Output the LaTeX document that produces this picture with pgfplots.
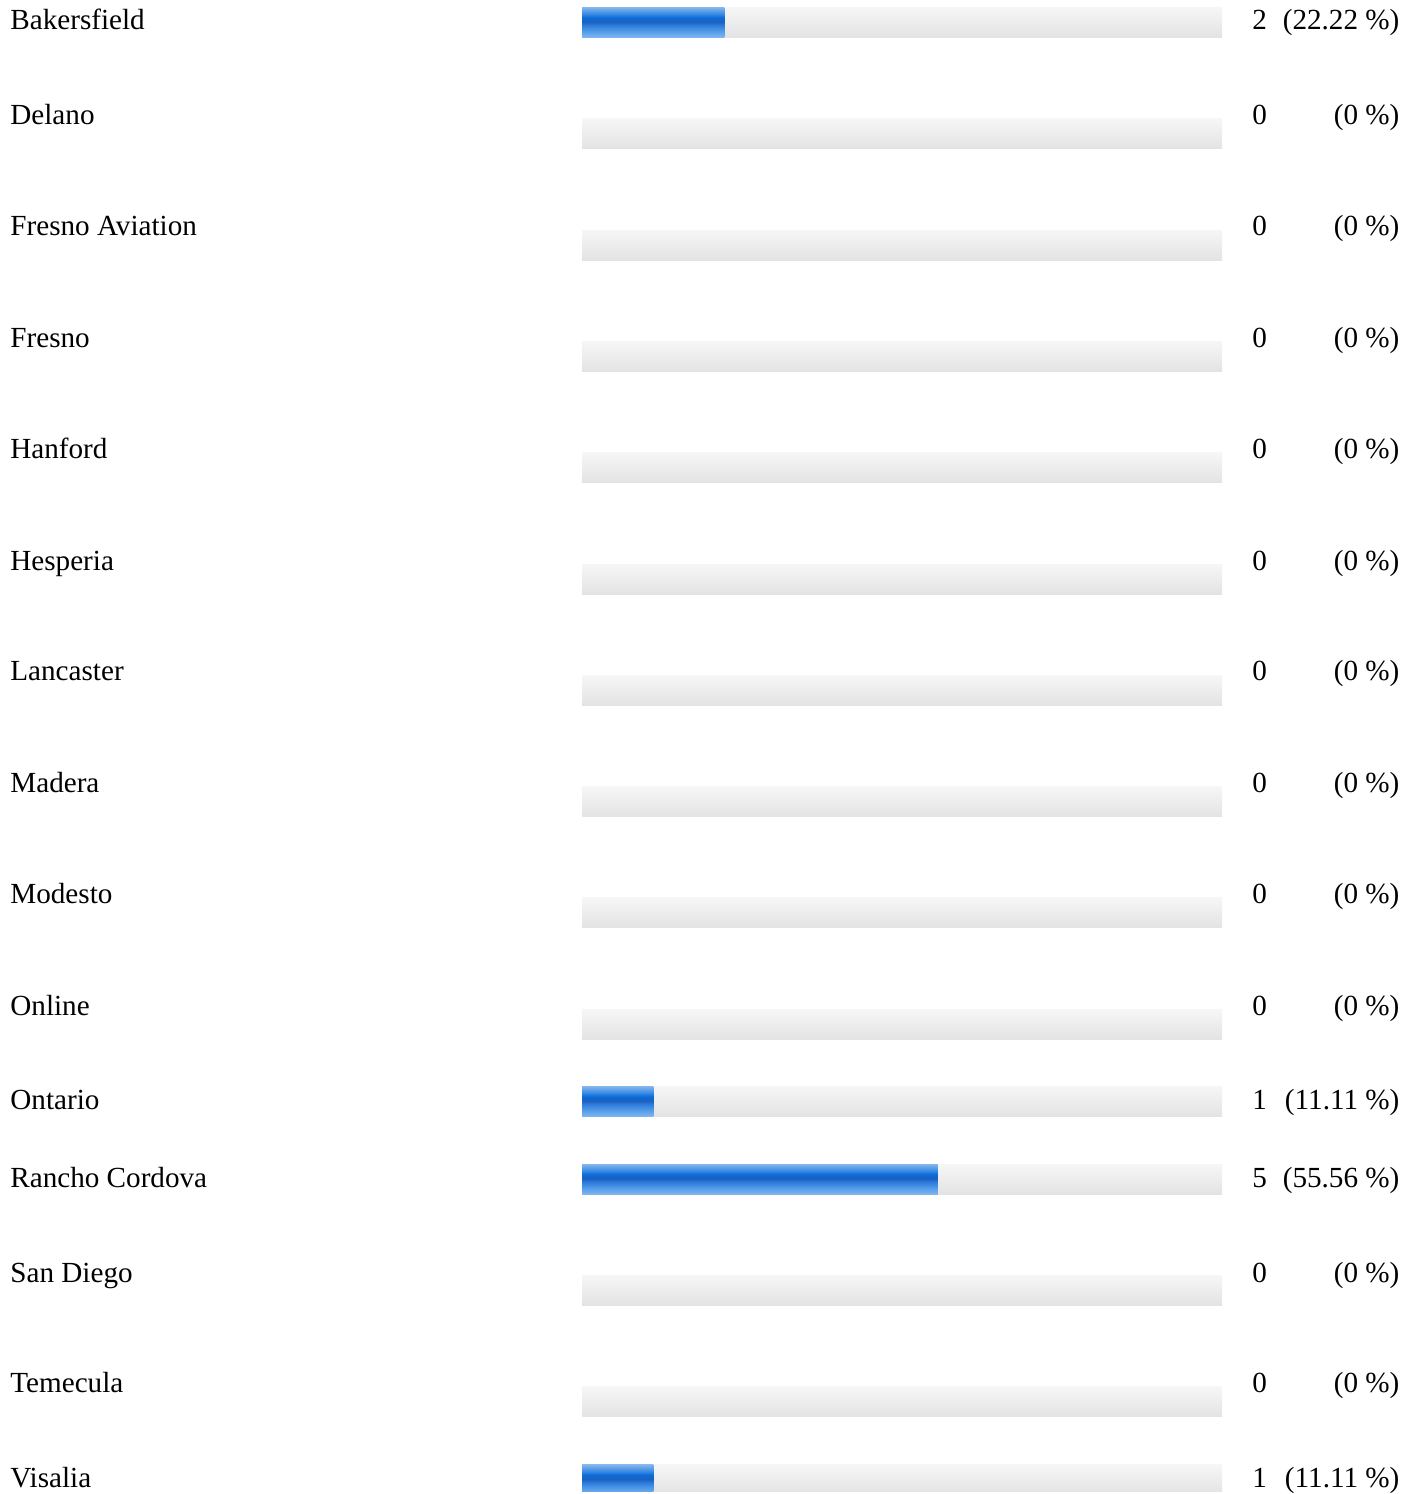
\documentclass[border=0pt]{standalone}
\usepackage{pgfplots}
\pgfplotsset{compat=1.18}
\usepackage{pgfplotstable}
\usepackage{fontspec}
\setmainfont{Liberation Serif}

\definecolor{bT}{HTML}{82B4EC}
\definecolor{b20}{HTML}{3D8DE4}
\definecolor{bMid}{HTML}{0A6BD9}
\definecolor{bDark}{HTML}{1E60BE}
\definecolor{b60}{HTML}{2D7DDF}
\definecolor{b80}{HTML}{569DE8}
\definecolor{bB}{HTML}{80B6F2}
\definecolor{gT}{HTML}{F6F6F6}
\definecolor{gB}{HTML}{E3E3E3}

\pgfdeclareverticalshading{bluebar}{100bp}{color(0bp)=(bB); color(25bp)=(bB); color(35bp)=(b80); color(45bp)=(b60); color(51bp)=(bDark); color(58bp)=(bMid); color(65bp)=(b20); color(75bp)=(bT); color(100bp)=(bT)}
\pgfdeclareverticalshading{graybar}{100bp}{color(0bp)=(gB); color(25bp)=(gB); color(75bp)=(gT); color(100bp)=(gT)}

% ly = text baseline (px), by = bar centre (px), val = percent
\pgfplotstableread{
name ly by val count pct
Bakersfield 30 22.5 22.22 2 {(22.22 \%)}
Delano 125 134 0 0 {(0 \%)}
{Fresno Aviation} 236 245.5 0 0 {(0 \%)}
Fresno 348 357 0 0 {(0 \%)}
Hanford 459 468.5 0 0 {(0 \%)}
Hesperia 571 580 0 0 {(0 \%)}
Lancaster 682 691.5 0 0 {(0 \%)}
Madera 794 803 0 0 {(0 \%)}
Modesto 905 914 0 0 {(0 \%)}
Online 1017 1026 0 0 {(0 \%)}
Ontario 1111 1103 11.11 1 {(11.11 \%)}
{Rancho Cordova} 1189 1181 55.56 5 {(55.56 \%)}
{San Diego} 1284 1292 0 0 {(0 \%)}
Temecula 1395 1404 0 0 {(0 \%)}
Visalia 1490 1482 11.11 1 {(11.11 \%)}
}\datatable

\pgfplotstableread{
by val
22.5 22.22
1103 11.11
1181 55.56
1482 11.11
}\bluetable

\begin{document}
\begin{tikzpicture}
\begin{axis}[
  width=709.5pt, height=747pt, scale only axis,
  xmin=-90.95, xmax=130.42, ymin=0, ymax=1494, y dir=reverse,
  axis line style={draw=none}, ticks=none,
  every node near coord/.append style={font=\fontsize{14.6pt}{17pt}\selectfont, inner sep=0pt, text=black},
]
% gray tracks, one path per bar so each gets its own shading
\pgfplotsinvokeforeach{0,...,14}{
\addplot[xbar, bar width=30, bar shift=0pt, draw=none, shading=graybar,
  restrict expr to domain={\coordindex}{#1:#1}]
  table[x expr=100, y=by] {\datatable};
}
% blue bars
\pgfplotsinvokeforeach{0,...,3}{
\addplot[xbar, bar width=30, bar shift=0pt, draw=none, shading=bluebar,
  restrict expr to domain={\coordindex}{#1:#1}]
  table[x=val, y=by] {\bluetable};
}
% category labels
\addplot[draw=none, mark=none, nodes near coords, point meta=explicit symbolic,
  every node near coord/.append style={anchor=base west}]
  table[x expr=-89.39, y=ly, meta=name] {\datatable};
% counts
\addplot[draw=none, mark=none, nodes near coords, point meta=explicit symbolic,
  every node near coord/.append style={anchor=base west}]
  table[x expr=104.65, y=ly, meta=count] {\datatable};
% percentages
\addplot[draw=none, mark=none, nodes near coords, point meta=explicit symbolic,
  every node near coord/.append style={anchor=base east}]
  table[x expr=127.75, y=ly, meta=pct] {\datatable};
\end{axis}
\end{tikzpicture}
\end{document}
